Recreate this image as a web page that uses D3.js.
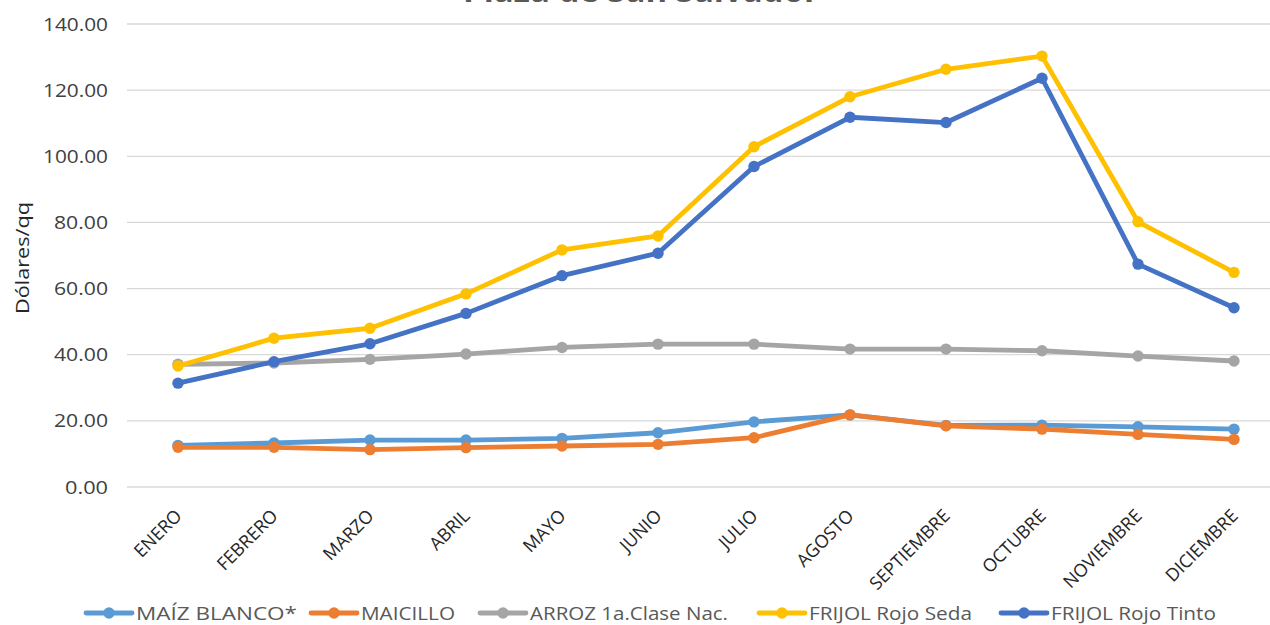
<!DOCTYPE html>
<html>
<head>
<meta charset="utf-8">
<script src="https://cdn.jsdelivr.net/npm/d3@7"></script>
<style>
  body { margin: 0; background: #fff; }
  text { font-family: "Open Sans", "Liberation Sans", sans-serif; }
</style>
</head>
<body>
<svg id="graph"></svg>
<script>
// chart data
var months = ["ENERO", "FEBRERO", "MARZO", "ABRIL", "MAYO", "JUNIO", "JULIO",
              "AGOSTO", "SEPTIEMBRE", "OCTUBRE", "NOVIEMBRE", "DICIEMBRE"];
var maizBlanco = [12.6, 13.3, 14.2, 14.2, 14.7, 16.4, 19.7, 21.8, 18.6, 18.7, 18.2, 17.5];
var maicillo   = [12.0, 12.0, 11.3, 11.9, 12.4, 12.9, 14.9, 21.8, 18.5, 17.5, 15.9, 14.4];
var arroz      = [37.1, 37.5, 38.6, 40.2, 42.2, 43.2, 43.2, 41.7, 41.7, 41.2, 39.6, 38.1];
var frijolSeda = [36.6, 45.0, 48.0, 58.4, 71.7, 75.9, 102.9, 118.0, 126.3, 130.3, 80.2, 64.9];
var frijolTinto = [31.4, 37.9, 43.3, 52.5, 63.9, 70.7, 96.9, 111.8, 110.2, 123.6, 67.4, 54.2];
var seriesNames = ["MAÍZ BLANCO*", "MAICILLO", "ARROZ 1a.Clase Nac.", "FRIJOL Rojo Seda", "FRIJOL Rojo Tinto"];
var seriesColors = ["#5B9BD5", "#ED7D31", "#A5A5A5", "#FFC000", "#4472C4"];
var yTicks = [0, 20, 40, 60, 80, 100, 120, 140];

var series = [maizBlanco, maicillo, arroz, frijolSeda, frijolTinto].map(function(v, i) {
  return { name: seriesNames[i], color: seriesColors[i], values: v };
});

// main container
var svg = d3.select("#graph")
    .attr("width", 1270)
    .attr("height", 625);

// plot area (the right side runs past the picture edge, as in the reference)
var plotLeft = 130, plotRight = 1282, plotTop = 24, plotBottom = 487;

var x = d3.scaleBand().domain(months).range([plotLeft, plotRight]).padding(0);
var y = d3.scaleLinear().domain([0, 140]).range([plotBottom, plotTop]);
var cx = function(m) { return x(m) + x.bandwidth() / 2; };

// title, mostly cut off at the top edge
svg.append("text")
    .attr("x", 641)
    .attr("y", 2)
    .attr("text-anchor", "middle")
    .attr("font-size", 33)
    .attr("font-weight", "bold")
    .attr("fill", "#595959")
    .text("Plaza de San Salvador");

// gridlines
svg.append("g")
  .selectAll("line")
  .data(yTicks)
  .enter().append("line")
    .attr("x1", 127)
    .attr("x2", 1270)
    .attr("y1", function(d) { return y(d); })
    .attr("y2", function(d) { return y(d); })
    .attr("stroke", "#d9d9d9")
    .attr("stroke-width", 1.3);

// y axis labels
var yAxis = svg.append("g")
    .attr("transform", "translate(127,0)")
    .call(d3.axisLeft(y).tickValues(yTicks).tickSize(0).tickPadding(19)
      .tickFormat(function(d) { return d3.format(".2f")(d); }));
yAxis.select(".domain").remove();
yAxis.selectAll("text")
    .attr("font-family", "'Open Sans', sans-serif")
    .attr("font-size", 19)
    .attr("fill", "#404040")
    .attr("textLength", function() { return 11 * (this.textContent.length - 1) + 10; })
    .attr("lengthAdjust", "spacingAndGlyphs");

svg.append("text")
    .attr("transform", "translate(29,258) rotate(-90)")
    .attr("text-anchor", "middle")
    .attr("font-size", 19)
    .attr("fill", "#262626")
    .attr("textLength", 112)
    .attr("lengthAdjust", "spacingAndGlyphs")
    .text("Dólares/qq");

// x axis labels, rotated
var xAxis = svg.append("g")
    .attr("transform", "translate(0," + plotBottom + ")")
    .call(d3.axisBottom(x).tickSize(0).tickPadding(0));
xAxis.select(".domain").remove();
xAxis.selectAll("text")
    .attr("font-family", "'Open Sans', sans-serif")
    .attr("font-size", 18)
    .attr("fill", "#262626")
    .attr("text-anchor", "end")
    .attr("dy", null)
    .attr("y", 0)
    .attr("transform", "translate(5,30) rotate(-45)");

// lines and markers
var line = d3.line()
    .x(function(d, i) { return cx(months[i]); })
    .y(function(d) { return y(d); });

var sg = svg.selectAll(".series")
  .data(series)
  .enter().append("g")
    .attr("class", "series");

sg.append("path")
    .attr("d", function(d) { return line(d.values); })
    .attr("fill", "none")
    .attr("stroke", function(d) { return d.color; })
    .attr("stroke-width", 4.8)
    .attr("stroke-linejoin", "round")
    .attr("stroke-linecap", "round");

sg.selectAll("circle")
  .data(function(d) { return d.values.map(function(v) { return { v: v, c: d.color }; }); })
  .enter().append("circle")
    .attr("cx", function(d, i) { return cx(months[i]); })
    .attr("cy", function(d) { return y(d.v); })
    .attr("r", 5.7)
    .attr("fill", function(d) { return d.c; });

// legend
var legendX = [86, 311, 480, 759, 1001];
var legendTextW = [161, 94, 198, 163, 165];
var lg = svg.selectAll(".legend")
  .data(series)
  .enter().append("g")
    .attr("class", "legend")
    .attr("transform", function(d, i) { return "translate(" + legendX[i] + ",613)"; });

lg.append("line")
    .attr("x1", 0).attr("x2", 46)
    .attr("stroke", function(d) { return d.color; })
    .attr("stroke-width", 4.8)
    .attr("stroke-linecap", "round");
lg.append("circle")
    .attr("cx", 23)
    .attr("r", 5.7)
    .attr("fill", function(d) { return d.color; });
lg.append("text")
    .attr("x", 50)
    .attr("y", 7)
    .attr("font-size", 19)
    .attr("fill", "#595959")
    .attr("textLength", function(d, i) { return legendTextW[i]; })
    .attr("lengthAdjust", "spacingAndGlyphs")
    .text(function(d) { return d.name; });
</script>
</body>
</html>
